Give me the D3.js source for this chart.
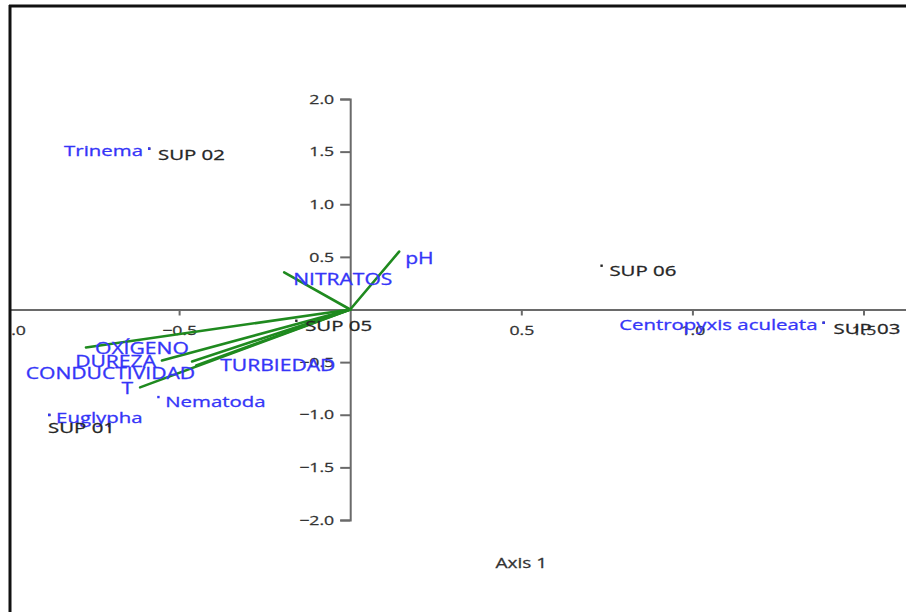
<!DOCTYPE html>
<html>
<head>
<meta charset="utf-8">
<script src="https://cdn.jsdelivr.net/npm/d3@7"></script>
<style>
  html, body { margin: 0; padding: 0; background: #fff; }
  svg { display: block; }
</style>
</head>
<body>
<svg id="chart" width="906" height="612"></svg>
<script>
// ---- data ----
const siteNames = ["SUP 01", "SUP 02", "SUP 03", "SUP 05", "SUP 06"];
const siteAxis1 = [-0.88, -0.588, 1.383, -0.158, 0.734];
const siteAxis2 = [-1.00, 1.53, -0.124, -0.105, 0.418];

const speciesNames = ["Trinema", "Centropyxis aculeata", "Nematoda", "Euglypha"];
const speciesAxis1 = [-0.588, 1.383, -0.561, -0.88];
const speciesAxis2 = [1.53, -0.124, -0.83, -1.00];

const vectorNames = ["pH", "NITRATOS", "OXÍGENO", "DUREZA", "CONDUCTIVIDAD", "TURBIEDAD", "T"];
const vectorAxis1 = [0.143, -0.193, -0.772, -0.55, -0.462, -0.45, -0.614];
const vectorAxis2 = [0.55, 0.352, -0.361, -0.485, -0.494, -0.532, -0.74];

const xTicks = [-1.0, -0.5, 0.5, 1.0, 1.5];
const yTicks = [-2.0, -1.5, -1.0, -0.5, 0.5, 1.0, 1.5, 2.0];
const xTitle = "Axis 1";

// ---- label placement (pixels, style only) ----
const place = {
  "Trinema": ["end", -6, 2],
  "Centropyxis aculeata": ["end", -6, 2],
  "Nematoda": ["start", 7, 4],
  "Euglypha": ["start", 7, 2],
  "SUP 01": ["start", -1, 12],
  "SUP 02": ["start", 9, 6],
  "SUP 03": ["start", 10, 6],
  "SUP 05": ["start", 9, 5],
  "SUP 06": ["start", 8, 5],
  "pH": ["start", 6, 6],
  "NITRATOS": ["start", 9, 6],
  "OXÍGENO": ["start", 9, 0],
  "DUREZA": ["end", -6, 0],
  "CONDUCTIVIDAD": ["end", 3, 11],
  "TURBIEDAD": ["start", 24, -1],
  "T": ["end", -7, 0]
};

const SX = 1.36;           // horizontal stretch of the reference text
const FONT = "'Open Sans', 'Noto Sans', sans-serif";
const BLUE = "#3535f8";
const DARK = "#262626";
const GREEN = "#1f8a1f";

const svg = d3.select("#chart");
svg.append("rect").attr("width", 906).attr("height", 612).attr("fill", "#fff");

svg.append("defs").append("clipPath").attr("id", "clip")
  .append("rect").attr("x", 11).attr("y", 7).attr("width", 900).attr("height", 610);

const g = svg.append("g").attr("clip-path", "url(#clip)");

const x = d3.scaleLinear().domain([-1.0, 1.63]).range([8, 908]);
const y = d3.scaleLinear().domain([-2, 2]).range([520, 99]);

// x axis through y = 0
const xAxis = g.append("g")
  .attr("transform", `translate(0,${y(0)})`)
  .call(d3.axisBottom(x).tickValues(xTicks).tickFormat(d3.format(".1f"))
        .tickSize(6).tickSizeOuter(0).tickPadding(10));
xAxis.select(".domain").attr("stroke", "#6a6a6a").attr("stroke-width", 2);
xAxis.selectAll(".tick line").attr("stroke", "#6a6a6a").attr("stroke-width", 2);
xAxis.selectAll(".tick text")
  .attr("fill", "#333").attr("stroke", "#333").attr("stroke-width", 0.25)
  .style("font-family", FONT).style("font-size", "13px")
  .attr("transform", `scale(${SX},1)`);

// y axis through x = 0
const yAxis = g.append("g")
  .attr("transform", `translate(${x(0)},0)`)
  .call(d3.axisLeft(y).tickValues(yTicks).tickFormat(d3.format(".1f"))
        .tickSize(10).tickSizeOuter(10).tickPadding(6));
yAxis.select(".domain").attr("stroke", "#6a6a6a").attr("stroke-width", 2);
yAxis.selectAll(".tick line").attr("stroke", "#6a6a6a").attr("stroke-width", 2);
yAxis.selectAll(".tick text").each(function () {
  const t = d3.select(this);
  const tx = +t.attr("x");
  t.attr("x", 0).attr("transform", `translate(${tx},0) scale(${SX},1)`);
}).attr("fill", "#333").attr("stroke", "#333").attr("stroke-width", 0.25)
  .style("font-family", FONT).style("font-size", "13px");

// vectors
const vectors = vectorNames.map((n, i) => ({ name: n, a1: vectorAxis1[i], a2: vectorAxis2[i] }));
g.append("g").selectAll("line").data(vectors).join("line")
  .attr("x1", x(0)).attr("y1", y(0))
  .attr("x2", d => x(d.a1)).attr("y2", d => y(d.a2))
  .attr("stroke", GREEN).attr("stroke-width", 2.6).attr("stroke-linecap", "round");

// points
const sites = siteNames.map((n, i) => ({ name: n, a1: siteAxis1[i], a2: siteAxis2[i], col: DARK }));
const species = speciesNames.map((n, i) => ({ name: n, a1: speciesAxis1[i], a2: speciesAxis2[i], col: BLUE }));
const pts = sites.concat(species);
g.append("g").selectAll("rect").data(pts).join("rect")
  .attr("x", d => x(d.a1) - 1).attr("y", d => y(d.a2) - 1)
  .attr("width", 2.4).attr("height", 2.4).attr("fill", d => d.col);

// labels
function drawLabels(data, color, size) {
  const lg = g.append("g").selectAll("g").data(data).join("g")
    .attr("transform", d => {
      const p = place[d.name];
      return `translate(${x(d.a1) + p[1]},${y(d.a2) + p[2]})`;
    });
  lg.append("text")
    .attr("transform", `scale(${SX},1)`)
    .attr("text-anchor", d => place[d.name][0])
    .attr("dominant-baseline", "central")
    .attr("fill", color).attr("stroke", color).attr("stroke-width", 0.3)
    .style("font-family", FONT).style("font-size", size + "px")
    .text(d => d.name);
}
drawLabels(species, BLUE, 15);
drawLabels(vectors, BLUE, 15.5);
drawLabels(sites, DARK, 15);

// axis title
g.append("text")
  .attr("transform", `translate(${x(0.5)},${563}) scale(${SX},1)`)
  .attr("text-anchor", "middle").attr("dominant-baseline", "central")
  .attr("fill", "#333").attr("stroke", "#333").attr("stroke-width", 0.25)
  .style("font-family", FONT).style("font-size", "14px")
  .text(xTitle);

// frame (top and left borders of the cropped screenshot)
svg.append("line").attr("x1", 9).attr("x2", 906).attr("y1", 6).attr("y2", 6)
  .attr("stroke", "#111").attr("stroke-width", 3);
svg.append("line").attr("x1", 10).attr("x2", 10).attr("y1", 5).attr("y2", 612)
  .attr("stroke", "#111").attr("stroke-width", 3);
</script>
</body>
</html>
